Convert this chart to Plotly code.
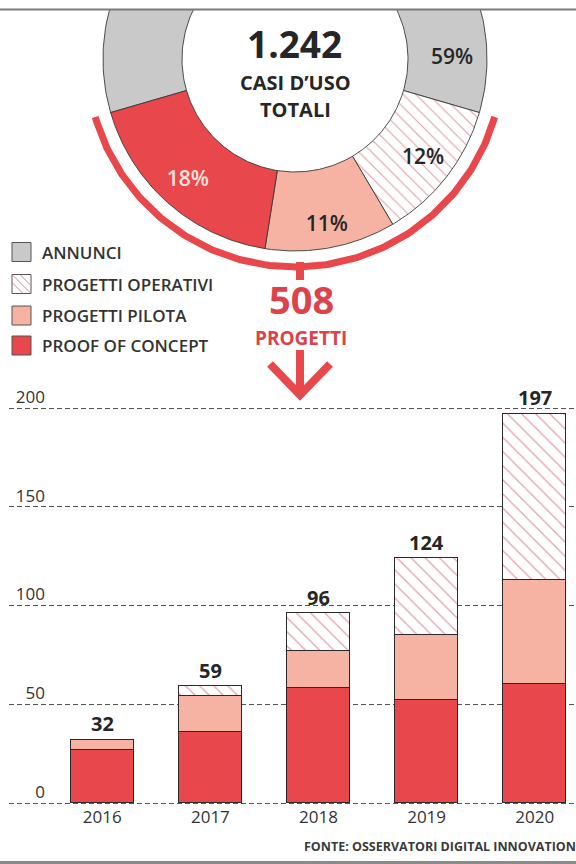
import numpy as np
import plotly.graph_objects as go

W, H = 576, 864

# ---------------- data ----------------
donut_labels = ["ANNUNCI", "PROGETTI OPERATIVI", "PROGETTI PILOTA", "PROOF OF CONCEPT"]
donut_pct = [59, 12, 11, 18]
total_cases = "1.242"
total_projects = 508

years = ["2016", "2017", "2018", "2019", "2020"]
proof_of_concept = [27, 36, 58, 52, 60]
progetti_pilota = [5, 18, 19, 33, 53]
progetti_operativi = [0, 5, 19, 39, 84]
totals = [32, 59, 96, 124, 197]
y_ticks = [0, 50, 100, 150, 200]

# ---------------- style ----------------
RED = "#e8474b"
SALMON = "#f6b2a2"
GREY = "#c9c9c9"
PINK = "#e6a0aa"
DARK = "#262626"
FONT = "Open Sans"
slice_colors = [GREY, "white", SALMON, RED]


def fx(p):
    return p / W


def fy(p):
    return 1 - p / H


fig = go.Figure()

# ---------------- donut (pixel-unit axes x2/y2) ----------------
CX, CY = 295, 59          # donut centre, pixels
R_OUT, R_IN = 192, 113
R_ARC = 208
theta0 = 90 + donut_pct[0] * 3.6 / 2
cum = np.concatenate([[0], np.cumsum(donut_pct)])
angles = [(theta0 - cum[i] * 3.6, theta0 - cum[i + 1] * 3.6) for i in range(len(donut_pct))]

for i, lab in enumerate(donut_labels):
    a0, a1 = angles[i]
    t = np.radians(np.linspace(a0, a1, 160))
    xs = np.concatenate([R_OUT * np.cos(t), R_IN * np.cos(t[::-1]), [R_OUT * np.cos(t[0])]])
    ys = np.concatenate([R_OUT * np.sin(t), R_IN * np.sin(t[::-1]), [R_OUT * np.sin(t[0])]])
    kw = {}
    if lab == "PROGETTI OPERATIVI":
        kw["fillpattern"] = dict(shape="\\", fgcolor=PINK, bgcolor="white", size=9, solidity=0.13)
    fig.add_trace(go.Scatter(
        x=xs, y=ys, mode="lines", fill="toself", fillcolor=slice_colors[i],
        line=dict(color="#3a3a3a", width=0.9), xaxis="x2", yaxis="y2",
        hoverinfo="skip", showlegend=False, **kw))

# red bracket arc around the project slices
ta = np.radians(np.linspace(angles[1][0], angles[-1][1], 200))
fig.add_trace(go.Scatter(
    x=R_ARC * np.cos(ta), y=R_ARC * np.sin(ta), mode="lines",
    line=dict(color=RED, width=7), xaxis="x2", yaxis="y2",
    hoverinfo="skip", showlegend=False))

# percentage labels
label_ang = [0] + [(a0 + a1) / 2 for a0, a1 in angles[1:]]
label_r = [157, 162, 170, 162]
fig.add_trace(go.Scatter(
    x=[r * np.cos(np.radians(a)) for r, a in zip(label_r, label_ang)],
    y=[r * np.sin(np.radians(a)) for r, a in zip(label_r, label_ang)],
    mode="text", text=[f"{p}%" for p in donut_pct],
    textfont=dict(family=FONT, size=21, color=[DARK, DARK, DARK, "#fde3de"], weight=600),
    xaxis="x2", yaxis="y2", hoverinfo="skip", showlegend=False))

# ---------------- stacked bars ----------------
bar_w = 63.5 / 108.1
common = dict(x=years, width=bar_w, hoverinfo="skip", showlegend=False)
fig.add_trace(go.Bar(y=proof_of_concept, name="PROOF OF CONCEPT",
                     marker=dict(color=RED, line=dict(color="#2a2a2a", width=1.2)), **common))
fig.add_trace(go.Bar(y=progetti_pilota, name="PROGETTI PILOTA",
                     marker=dict(color=SALMON, line=dict(color="#2a2a2a", width=1.2)), **common))
fig.add_trace(go.Bar(y=progetti_operativi, name="PROGETTI OPERATIVI",
                     marker=dict(color="white", line=dict(color="#2a2a2a", width=1.2),
                                 pattern=dict(shape="\\", fgcolor=PINK, bgcolor="white",
                                              size=10, solidity=0.13)), **common))

annotations = []
for i, tot in enumerate(totals):
    annotations.append(dict(x=i, y=tot, xref="x", yref="y", text=f"<b>{tot}</b>",
                            showarrow=False, yshift=16, yanchor="middle",
                            font=dict(family=FONT, size=20, color=DARK)))

# donut centre texts
annotations += [
    dict(x=-1, y=CY - 43.5, xref="x2", yref="y2", text=f"<b>{total_cases}</b>", showarrow=False,
         yanchor="middle", font=dict(family=FONT, size=37, color=DARK)),
    dict(x=0, y=CY - 82.5, xref="x2", yref="y2", text="<b>CASI D’USO</b>", showarrow=False,
         yanchor="middle", font=dict(family=FONT, size=20, color=DARK)),
    dict(x=0, y=CY - 110, xref="x2", yref="y2", text="<b>TOTALI</b>", showarrow=False,
         yanchor="middle", font=dict(family=FONT, size=20, color=DARK)),
]

# 508 PROGETTI
annotations += [
    dict(x=fx(301), y=fy(299), xref="paper", yref="paper", text=f"<b>{total_projects}</b>",
         showarrow=False, yanchor="middle",
         font=dict(family=FONT, size=38, color="#dc4349")),
    dict(x=fx(301), y=fy(338), xref="paper", yref="paper", text="<b>PROGETTI</b>",
         showarrow=False, yanchor="middle",
         font=dict(family=FONT, size=19, color="#dc4349")),
]

# legend
legend_y = [252, 284, 315.5, 345.5]
legend_fill = [GREY, "white", SALMON, RED]
shapes = []
for lab, yc, fc in zip(donut_labels, legend_y, legend_fill):
    shapes.append(dict(type="rect", xref="paper", yref="paper",
                       x0=fx(12), x1=fx(31), y0=fy(yc - 9.5), y1=fy(yc + 9.5),
                       fillcolor=fc, line=dict(color="#555555", width=1)))
    annotations.append(dict(x=fx(40), y=fy(yc), xref="paper", yref="paper", xanchor="left",
                            yanchor="middle", text=lab, showarrow=False,
                            font=dict(family=FONT, size=17, color="#333333", weight=600)))
# hatch in the operativi legend key
yc = legend_y[1]
for (a, b, c, d) in [(12, yc - 9.5, 31, yc + 9.5), (20, yc - 9.5, 31, yc + 1.5), (12, yc - 1.5, 23, yc + 9.5)]:
    shapes.append(dict(type="line", xref="paper", yref="paper", x0=fx(a), y0=fy(b),
                       x1=fx(c), y1=fy(d), line=dict(color="#c98a96", width=1)))

# source
annotations.append(dict(x=fx(302), y=fy(846), xref="paper", yref="paper", xanchor="left",
                        yanchor="middle",
                        text="<b>FONTE: OSSERVATORI DIGITAL INNOVATION</b>", showarrow=False,
                        font=dict(family=FONT, size=12.5, color="#3a3a3a")))

# frame lines, stem and arrow
shapes += [
    dict(type="line", xref="paper", yref="paper", x0=0, x1=1, y0=fy(9.5), y1=fy(9.5),
         line=dict(color="#7a7a7a", width=2)),
    dict(type="line", xref="paper", yref="paper", x0=0, x1=1, y0=fy(863), y1=fy(863),
         line=dict(color="#8a8a8a", width=4)),
    dict(type="line", xref="paper", yref="paper", x0=fx(300), x1=fx(300), y0=fy(262), y1=fy(280),
         line=dict(color=RED, width=8)),
    dict(type="line", xref="paper", yref="paper", x0=fx(300), x1=fx(300), y0=fy(350), y1=fy(392),
         line=dict(color=RED, width=8)),
    dict(type="path", xref="paper", yref="paper",
         path=f"M {fx(270)},{fy(364)} L {fx(300)},{fy(395)} L {fx(330)},{fy(364)}",
         line=dict(color=RED, width=8)),
]

# ---------------- layout ----------------
Y0_PX, PX_PER = 803, 1.975
y_lo, y_hi = -1, 206
x_left_px = 9
x0 = -(102.3 - x_left_px) / 108.1
x1 = x0 + (W - x_left_px) / 108.1

fig.update_layout(
    template="none",
    width=W, height=H,
    margin=dict(l=0, r=0, t=0, b=0, pad=0),
    paper_bgcolor="white", plot_bgcolor="rgba(0,0,0,0)",
    barmode="stack", bargap=0,
    showlegend=False,
    font=dict(family=FONT, color="#333333"),
    xaxis=dict(domain=[fx(x_left_px), 1], range=[x0, x1], type="category",
               showgrid=False, zeroline=False, showline=False, ticks="",
               tickfont=dict(family=FONT, size=17, color="#333333"),
               automargin=False, fixedrange=True, anchor="y"),
    yaxis=dict(domain=[fy(Y0_PX - y_lo * PX_PER), fy(Y0_PX - y_hi * PX_PER)],
               range=[y_lo, y_hi], tickvals=y_ticks, ticktext=[str(v) for v in y_ticks],
               anchor="free", position=fx(45),
               showgrid=True, gridcolor="#555555", griddash="5px,3px", gridwidth=1.2,
               zeroline=False, showline=False, ticks="",
               ticklabelshift=-11,
               tickfont=dict(family=FONT, size=17, color="#333333"),
               automargin=False, fixedrange=True),
    xaxis2=dict(domain=[0, 1], range=[-CX, W - CX], visible=False, fixedrange=True,
                anchor="y2"),
    yaxis2=dict(domain=[fy(300), fy(9.5)], range=[CY - 300, CY - 9.5], visible=False,
                fixedrange=True, anchor="x2"),
    shapes=shapes,
    annotations=annotations,
)

fig.write_html("out.html")
